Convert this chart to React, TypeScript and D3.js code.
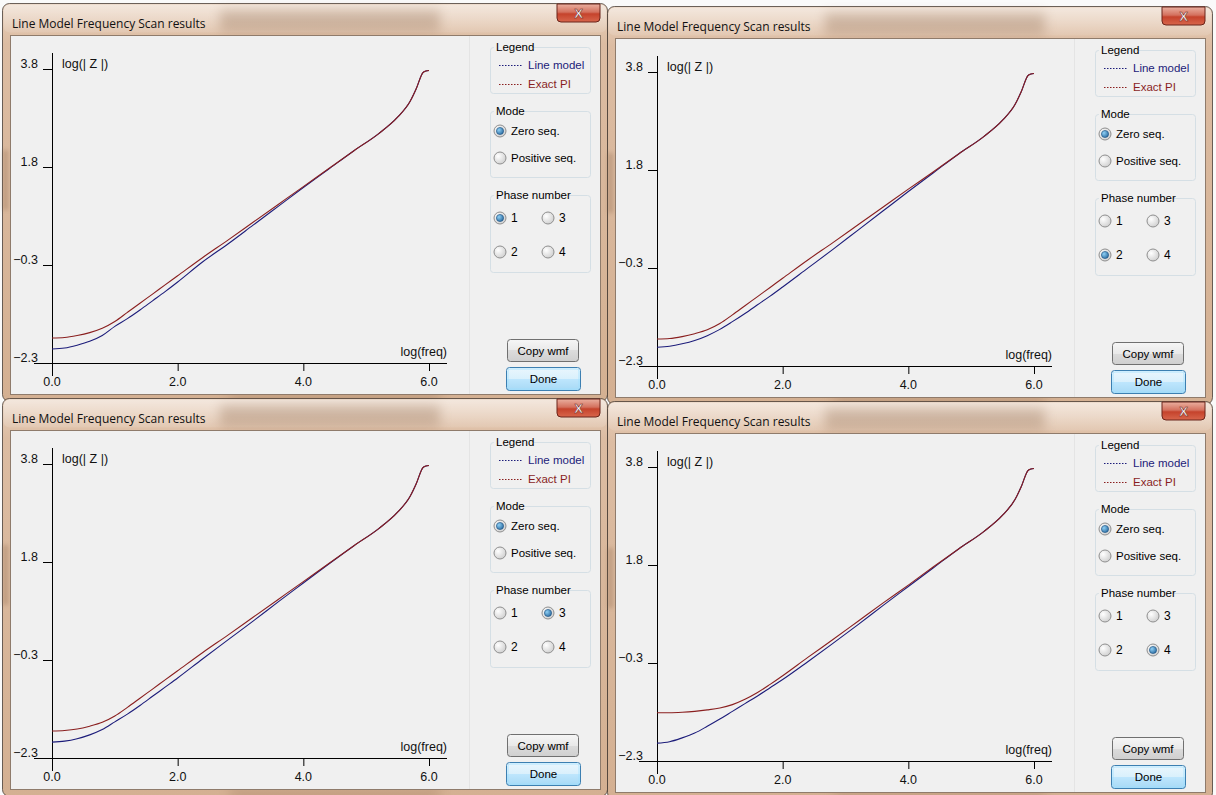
import React from 'react';
import * as d3 from 'd3';

// log10 frequency samples, shared by every scan
const logFreq = [0, 0.2, 0.4, 0.6, 0.8, 1.0, 1.2, 1.4, 1.6, 1.8, 2.0, 2.4, 2.8, 3.2, 3.6, 4.0, 4.4, 4.8, 5.2, 5.5, 5.7, 5.8, 5.9, 5.95, 6.0];

// log(|Z|), zero sequence
const phase1Line = [-2.01, -1.99, -1.93, -1.85, -1.73, -1.54, -1.38, -1.20, -1.01, -0.82, -0.62, -0.20, 0.17, 0.56, 0.95, 1.34, 1.72, 2.10, 2.46, 2.80, 3.13, 3.40, 3.72, 3.76, 3.77];
const phase1Exact = [-1.78, -1.77, -1.73, -1.67, -1.58, -1.44, -1.25, -1.06, -0.87, -0.68, -0.49, -0.11, 0.25, 0.62, 0.99, 1.36, 1.73, 2.10, 2.46, 2.80, 3.13, 3.40, 3.72, 3.76, 3.77];
const phase2Line = [-1.91, -1.89, -1.84, -1.77, -1.67, -1.54, -1.38, -1.21, -1.03, -0.85, -0.66, -0.27, 0.12, 0.52, 0.92, 1.32, 1.71, 2.10, 2.46, 2.80, 3.13, 3.40, 3.72, 3.76, 3.77];
const phase2Exact = [-1.74, -1.73, -1.69, -1.63, -1.55, -1.42, -1.24, -1.05, -0.86, -0.67, -0.48, -0.10, 0.26, 0.63, 1.00, 1.37, 1.73, 2.10, 2.46, 2.80, 3.13, 3.40, 3.72, 3.76, 3.77];
const phase3Line = [-1.97, -1.95, -1.90, -1.82, -1.71, -1.55, -1.39, -1.21, -1.02, -0.83, -0.64, -0.24, 0.15, 0.54, 0.94, 1.33, 1.72, 2.10, 2.46, 2.80, 3.13, 3.40, 3.72, 3.76, 3.77];
const phase3Exact = [-1.74, -1.73, -1.70, -1.64, -1.56, -1.43, -1.25, -1.06, -0.87, -0.68, -0.49, -0.11, 0.25, 0.62, 0.99, 1.36, 1.73, 2.10, 2.46, 2.80, 3.13, 3.40, 3.72, 3.76, 3.77];
const phase4Line = [-1.93, -1.90, -1.82, -1.72, -1.58, -1.43, -1.27, -1.11, -0.95, -0.78, -0.61, -0.24, 0.14, 0.53, 0.93, 1.32, 1.71, 2.10, 2.46, 2.80, 3.13, 3.40, 3.72, 3.76, 3.77];
const phase4Exact = [-1.30, -1.30, -1.29, -1.27, -1.24, -1.20, -1.13, -1.02, -0.88, -0.71, -0.53, -0.15, 0.22, 0.60, 0.98, 1.35, 1.73, 2.10, 2.46, 2.80, 3.13, 3.40, 3.72, 3.76, 3.77];

const xTicks = [0, 2, 4, 6];
const yDomain = [-2.3, 3.8];
const title = 'Line Model Frequency Scan results';
const legendNames = ['Line model', 'Exact PI'];
const modeNames = ['Zero seq.', 'Positive seq.'];
const phaseNames = ['1', '3', '2', '4'];

const LINE_COL = '#1c1c7a';
const EXACT_COL = '#8a1f1f';
const UI_FONT = '"Liberation Sans", Arial, sans-serif';

function Radio({ cx, cy, on }: { cx: number; cy: number; on: boolean }) {
  return (
    <g>
      <circle cx={cx} cy={cy} r={6} fill="url(#radioBg)" stroke="#8f8f8f" />
      {on && <circle cx={cx} cy={cy} r={3.6} fill="url(#radioDot)" stroke="#1b4f80" strokeWidth={0.6} />}
    </g>
  );
}

function GroupBox({ x, y, w, h, label }: { x: number; y: number; w: number; h: number; label: string }) {
  return (
    <g>
      <rect x={x + 0.5} y={y + 0.5} width={w} height={h} rx={3} fill="none" stroke="#d5dfe5" />
      <rect x={x + 4} y={y - 6} width={label.length * 5.6 + 4} height={12} fill="#f0f0f0" />
      <text x={x + 6} y={y + 4} fontSize={11.5} fill="#000">{label}</text>
    </g>
  );
}

function Panel({ dx, dy, line, exact, phase }: { dx: number; dy: number; line: number[]; exact: number[]; phase: number }) {
  const x = d3.scaleLinear().domain([0, 6]).range([52, 429]);
  const y = d3.scaleLinear().domain(yDomain).range([363, 69]);
  const path = d3.line<number>()
    .x((_, i) => x(logFreq[i]))
    .y(d => y(d))
    .curve(d3.curveMonotoneX);
  // four evenly spaced y ticks over the range
  const yTicks = d3.range(4).map(i => yDomain[0] + (i * (yDomain[1] - yDomain[0])) / 3);
  const fmt = d3.format('.1f');
  const phasePos = [[500, 218], [548, 218], [500, 252], [548, 252]];

  return (
    <g transform={`translate(${dx},${dy})`} fontFamily={UI_FONT}>
      {/* window frame */}
      <rect x={2.5} y={3.5} width={605} height={398} rx={7} fill="url(#frameGrad)" stroke="#3d332c" strokeOpacity={0.75} />
      <rect x={3.5} y={4.5} width={603} height={28} rx={6} fill="url(#gloss)" />
      <rect x={220} y={10} width={220} height={22} fill="#8a6548" opacity={0.3} filter="url(#blurF)" />
      <rect x={230} y={394} width={210} height={10} fill="#8a6548" opacity={0.3} filter="url(#blurF)" />
      <rect x={3} y={150} width={5} height={60} fill="#8a6548" opacity={0.35} filter="url(#blurS)" />
      <text x={12} y={28} fontSize={12} fontFamily='"Open Sans", sans-serif' fill="#111">{title}</text>

      {/* close button */}
      <path d="M557,4 h43 v14 a4,4 0 0 1 -4,4 h-35 a4,4 0 0 1 -4,-4 z" fill="url(#closeGrad)" stroke="#6b241a" />
      <text x={578.5} y={18} textAnchor="middle" fontSize={13} fontWeight="bold" fill="#fff" stroke="#6b241a" strokeWidth={0.5}>X</text>

      {/* client area */}
      <rect x={10.5} y={35.5} width={590} height={359} fill="#f0f0f0" stroke="#8f7b6b" />
      <line x1={469.5} x2={469.5} y1={36} y2={394} stroke="#e4e4e4" />

      {/* axes */}
      <line x1={34} x2={447} y1={363.5} y2={363.5} stroke="#000" />
      <line x1={52.5} x2={52.5} y1={53} y2={376} stroke="#000" />
      {xTicks.map(t => (
        <g key={t}>
          <line x1={x(t) + 0.5} x2={x(t) + 0.5} y1={363} y2={371} stroke="#000" />
          <text x={x(t)} y={386} textAnchor="middle" fontSize={12.5} fill="#111">{fmt(t)}</text>
        </g>
      ))}
      {yTicks.map(t => (
        <g key={t}>
          <line x1={43} x2={52} y1={Math.round(y(t)) + 0.5} y2={Math.round(y(t)) + 0.5} stroke="#000" />
          <text x={38} y={y(t) - 1.5} textAnchor="end" fontSize={12.5} fill="#111">{fmt(t)}</text>
        </g>
      ))}
      <text x={62} y={68} fontSize={12.5} fill="#111">log(| Z |)</text>
      <text x={447} y={356} textAnchor="end" fontSize={12.5} fill="#111">log(freq)</text>

      {/* curves */}
      <path d={path(line) || ''} fill="none" stroke={LINE_COL} strokeWidth={1.1} />
      <path d={path(exact) || ''} fill="none" stroke={EXACT_COL} strokeWidth={1.1} />

      {/* legend */}
      <GroupBox x={490} y={47} w={100} h={46} label="Legend" />
      <line x1={499} x2={523} y1={65.5} y2={65.5} stroke={LINE_COL} strokeDasharray="1.5,1.5" />
      <text x={528} y={69} fontSize={11.5} fill={LINE_COL}>{legendNames[0]}</text>
      <line x1={499} x2={523} y1={84.5} y2={84.5} stroke={EXACT_COL} strokeDasharray="1.5,1.5" />
      <text x={528} y={88} fontSize={11.5} fill={EXACT_COL}>{legendNames[1]}</text>

      {/* mode */}
      <GroupBox x={490} y={111} w={100} h={66} label="Mode" />
      {modeNames.map((m, i) => (
        <g key={m}>
          <Radio cx={500} cy={131 + i * 27} on={i === 0} />
          <text x={511} y={135 + i * 27} fontSize={11.5} fill="#000">{m}</text>
        </g>
      ))}

      {/* phase number */}
      <GroupBox x={490} y={195} w={100} h={77} label="Phase number" />
      {phaseNames.map((p, i) => (
        <g key={p}>
          <Radio cx={phasePos[i][0]} cy={phasePos[i][1]} on={Number(p) === phase} />
          <text x={phasePos[i][0] + 11} y={phasePos[i][1] + 4} fontSize={12} fill="#000">{p}</text>
        </g>
      ))}

      {/* buttons */}
      <rect x={507.5} y={339.5} width={71} height={22} rx={3} fill="url(#btnGrad)" stroke="#707070" />
      <text x={543} y={355} textAnchor="middle" fontSize={11.5} fill="#000">Copy wmf</text>
      <rect x={506.5} y={367.5} width={74} height={23} rx={3} fill="url(#btnBlue)" stroke="#3c7fb1" />
      <rect x={508} y={369} width={71} height={20} rx={2} fill="none" stroke="#9ee0ff" strokeOpacity={0.7} />
      <text x={543.5} y={383} textAnchor="middle" fontSize={11.5} fill="#000">Done</text>
    </g>
  );
}

export default function App() {
  return (
    <svg width={1216} height={795} style={{ position: 'absolute', left: 0, top: 0 }}>
      <defs>
        <linearGradient id="frameGrad" x1="0" y1="0" x2="0" y2="1">
          <stop offset="0" stopColor="#e8d0bc" />
          <stop offset="0.1" stopColor="#dcbca2" />
          <stop offset="1" stopColor="#d4b092" />
        </linearGradient>
        <linearGradient id="gloss" x1="0" y1="0" x2="0" y2="1">
          <stop offset="0" stopColor="#fff" stopOpacity={0.5} />
          <stop offset="1" stopColor="#fff" stopOpacity={0.1} />
        </linearGradient>
        <linearGradient id="closeGrad" x1="0" y1="0" x2="0" y2="1">
          <stop offset="0" stopColor="#eab0a0" />
          <stop offset="0.45" stopColor="#d4715e" />
          <stop offset="0.55" stopColor="#c5432c" />
          <stop offset="1" stopColor="#d8664c" />
        </linearGradient>
        <linearGradient id="btnGrad" x1="0" y1="0" x2="0" y2="1">
          <stop offset="0" stopColor="#f6f6f6" />
          <stop offset="0.5" stopColor="#e9e9e9" />
          <stop offset="0.5" stopColor="#dcdcdc" />
          <stop offset="1" stopColor="#cfcfcf" />
        </linearGradient>
        <linearGradient id="btnBlue" x1="0" y1="0" x2="0" y2="1">
          <stop offset="0" stopColor="#eaf6fd" />
          <stop offset="0.5" stopColor="#d9f0fc" />
          <stop offset="0.5" stopColor="#bee6fd" />
          <stop offset="1" stopColor="#a7d9f5" />
        </linearGradient>
        <radialGradient id="radioBg" cx="0.35" cy="0.35" r="0.8">
          <stop offset="0" stopColor="#ffffff" />
          <stop offset="1" stopColor="#c9c9c9" />
        </radialGradient>
        <radialGradient id="radioDot" cx="0.35" cy="0.35" r="0.8">
          <stop offset="0" stopColor="#8fd0f5" />
          <stop offset="1" stopColor="#1f5f96" />
        </radialGradient>
        <filter id="blurF" x="-20%" y="-50%" width="140%" height="200%">
          <feGaussianBlur stdDeviation="6" />
        </filter>
        <filter id="blurS" x="-100%" y="-50%" width="300%" height="200%">
          <feGaussianBlur stdDeviation="2" />
        </filter>
      </defs>
      <rect width={1216} height={795} fill="#fafafa" />
      <Panel dx={0} dy={0} line={phase1Line} exact={phase1Exact} phase={1} />
      <Panel dx={605} dy={3} line={phase2Line} exact={phase2Exact} phase={2} />
      <Panel dx={0} dy={395} line={phase3Line} exact={phase3Exact} phase={3} />
      <Panel dx={605} dy={398} line={phase4Line} exact={phase4Exact} phase={4} />
    </svg>
  );
}
